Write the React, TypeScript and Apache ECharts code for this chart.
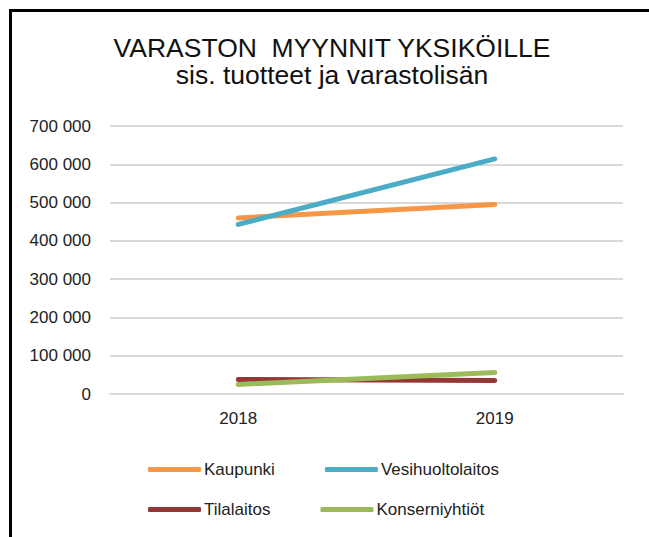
import React, { useEffect, useRef } from "react";
import * as echarts from "echarts";

const categories = ["2018", "2019"];
const kaupunki = [460000, 495000];
const vesihuoltolaitos = [443000, 614000];
const tilalaitos = [38000, 35000];
const konserniyhtiot = [25000, 56000];
const titleLines = ["VARASTON  MYYNNIT YKSIKÖILLE", "sis. tuotteet ja varastolisän"];

const FONT = "'Liberation Sans', Arial, sans-serif";

export default function App() {
  const ref = useRef<HTMLDivElement>(null);
  useEffect(() => {
    document.body.style.margin = "0";
    const chart = echarts.init(ref.current!, null, { renderer: "svg" });
    const mk = (name: string, data: number[], color: string) => ({
      name,
      type: "line",
      data,
      symbol: "none",
      lineStyle: { width: 5, color, cap: "round" },
      itemStyle: { color },
    });
    const legendCommon = {
      orient: "horizontal",
      left: 148,
      itemWidth: 53,
      itemHeight: 5,
      itemGap: 50,
      icon: "roundRect",
      textStyle: { fontFamily: FONT, fontSize: 17, color: "#222", padding: [0, 0, 0, -2] },
      padding: 0,
    };
    chart.setOption({
      animation: false,
      backgroundColor: "#fff",
      title: {
        text: titleLines.join("\n"),
        left: 327,
        top: 29,
        textAlign: "center",
        textStyle: { fontFamily: FONT, fontSize: 26.5, fontWeight: "normal", color: "#111", lineHeight: 27 },
      },
      grid: { left: 110, right: 26, top: 126, bottom: 143 },
      xAxis: {
        type: "category",
        data: categories,
        axisLine: { show: true, lineStyle: { color: "#d9d9d9", width: 2 } },
        axisTick: { show: false },
        axisLabel: { fontFamily: FONT, fontSize: 17, color: "#222", margin: 16 },
      },
      yAxis: {
        type: "value",
        min: 0,
        max: 700000,
        interval: 100000,
        axisLine: { show: false },
        axisTick: { show: false },
        splitLine: { lineStyle: { color: "#d9d9d9", width: 2 } },
        axisLabel: {
          fontFamily: FONT,
          fontSize: 17,
          color: "#222",
          margin: 19,
          formatter: (v: number) => String(v).replace(/\B(?=(\d{3})+(?!\d))/g, " "),
        },
      },
      legend: [
        { ...legendCommon, top: 461, data: ["Kaupunki", "Vesihuoltolaitos"] },
        { ...legendCommon, top: 501, data: ["Tilalaitos", "Konserniyhtiöt"] },
      ],
      series: [
        mk("Kaupunki", kaupunki, "#F79646"),
        mk("Vesihuoltolaitos", vesihuoltolaitos, "#4BACC6"),
        mk("Tilalaitos", tilalaitos, "#953735"),
        mk("Konserniyhtiöt", konserniyhtiot, "#9BBB59"),
      ],
      graphic: [
        { type: "line", shape: { x1: 9, y1: 10.5, x2: 649, y2: 10.5 }, style: { stroke: "#000", lineWidth: 3 } },
        { type: "line", shape: { x1: 10.5, y1: 9, x2: 10.5, y2: 537 }, style: { stroke: "#000", lineWidth: 3 } },
      ],
    });
    return () => chart.dispose();
  }, []);
  return <div ref={ref} style={{ position: "fixed", left: 0, top: 0, width: 649, height: 537 }} />;
}
